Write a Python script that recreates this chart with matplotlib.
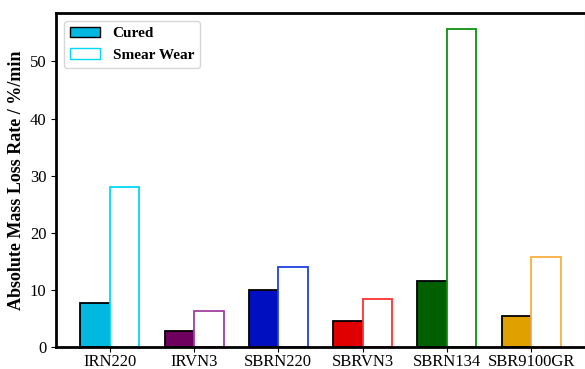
import matplotlib.pyplot as plt
import numpy as np
from matplotlib.patches import Patch

samples = ["IRN220", "IRVN3", "SBRN220", "SBRVN3", "SBRN134", "SBR9100GR"]
cured = [7.7, 2.8, 10.0, 4.6, 11.5, 5.4]
smear = [28.1, 6.3, 14.0, 8.4, 55.7, 15.8]
fill_colors = ["#00b8e0", "#700060", "#0010c0", "#e00000", "#006000", "#e0a000"]
edge_colors = ["#00d8f8", "#a040a0", "#2040e0", "#ff3030", "#109010", "#f8b040"]

plt.rcParams["font.family"] = ["Liberation Serif", "DejaVu Serif"]

fig = plt.figure(figsize=(5.85, 3.69), dpi=100)
ax = fig.add_axes([0.0957, 0.0596, 0.9043, 0.9052])

x = np.arange(len(samples))
w = 0.35
ax.bar(x - w / 2, cured, w, color=fill_colors, edgecolor="black", linewidth=1.3)
ax.bar(x + w / 2, smear, w, color="white", edgecolor=edge_colors, linewidth=1.3)

ax.set_xticks(x)
ax.set_xticklabels(samples, fontsize=12)
ax.tick_params(axis="x", pad=1.5, length=3.5)
ax.tick_params(axis="y", labelsize=12)
ax.set_xlim(-0.64, 5.64)
ax.set_ylabel("Absolute Mass Loss Rate / %/min", fontsize=13, fontweight="bold", labelpad=3)

for s in ["left", "bottom", "top"]:
    ax.spines[s].set_linewidth(2)
ax.spines["right"].set_linewidth(0.8)
ax.spines["right"].set_color("#cccccc")

handles = [Patch(facecolor=fill_colors[0], edgecolor="black", label="Cured"),
           Patch(facecolor="white", edgecolor=edge_colors[0], label="Smear Wear")]
ax.legend(handles=handles, loc="upper left", prop={"weight": "bold", "size": 11})

fig.savefig("out.png", dpi=100)
